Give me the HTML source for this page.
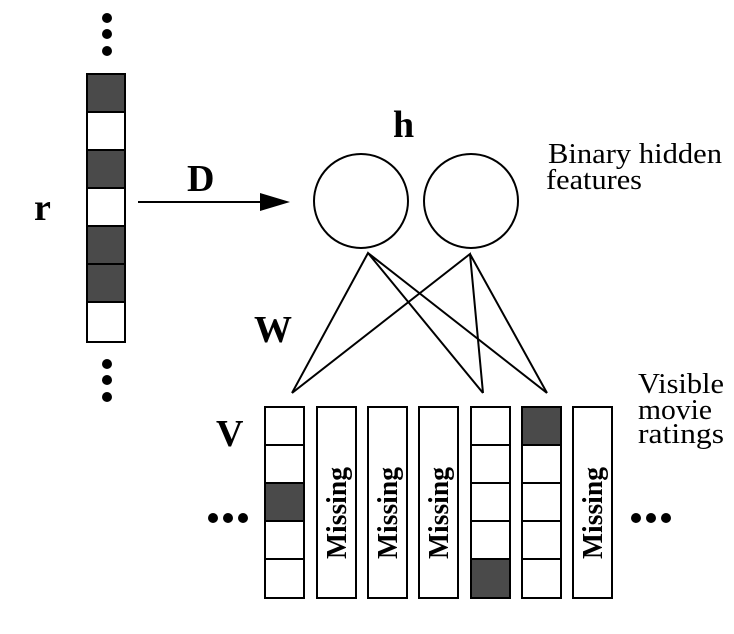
<!DOCTYPE html>
<html><head><meta charset="utf-8"><style>html,body{margin:0;padding:0;background:#fff}svg text{font-family:"Liberation Serif",serif}</style></head>
<body>
<svg width="734" height="629" viewBox="0 0 734 629" xmlns="http://www.w3.org/2000/svg">
<g fill="#000">
<circle cx="107" cy="18" r="5"/><circle cx="107" cy="34" r="5"/><circle cx="107" cy="51" r="5"/>
<circle cx="107" cy="364" r="5"/><circle cx="107" cy="380" r="5"/><circle cx="107" cy="397" r="5"/>
<circle cx="213" cy="518" r="5"/><circle cx="228" cy="518" r="5"/><circle cx="243" cy="518" r="5"/>
<circle cx="636" cy="518" r="5"/><circle cx="651" cy="518" r="5"/><circle cx="666" cy="518" r="5"/>
</g>
<g stroke="#000" stroke-width="2">
<rect x="87" y="74" width="38" height="38" fill="#4a4a4a"/>
<rect x="87" y="112" width="38" height="38" fill="#fff"/>
<rect x="87" y="150" width="38" height="38" fill="#4a4a4a"/>
<rect x="87" y="188" width="38" height="38" fill="#fff"/>
<rect x="87" y="226" width="38" height="38" fill="#4a4a4a"/>
<rect x="87" y="264" width="38" height="38" fill="#4a4a4a"/>
<rect x="87" y="302" width="38" height="40" fill="#fff"/>
<line x1="138" y1="202" x2="265" y2="202"/>
<circle cx="361" cy="201" r="47" fill="none"/>
<circle cx="471" cy="201" r="47" fill="none"/>
<g fill="none">
<path d="M292 393 L368 253 L483 393 M368 253 L547 393"/>
<path d="M292 393 L470 254 L483 393 M470 254 L547 393"/>
</g>
</g>
<polygon points="290,202 260,193 260,211" fill="#000"/>
<g stroke="#000" stroke-width="2" fill="#fff">
<rect x="265" y="407" width="39" height="38"/><rect x="265" y="445" width="39" height="38"/><rect x="265" y="483" width="39" height="38" fill="#4a4a4a"/><rect x="265" y="521" width="39" height="38"/><rect x="265" y="559" width="39" height="39"/>
<rect x="317" y="407" width="39" height="191"/>
<rect x="368" y="407" width="39" height="191"/>
<rect x="419" y="407" width="39" height="191"/>
<rect x="471" y="407" width="39" height="38"/><rect x="471" y="445" width="39" height="38"/><rect x="471" y="483" width="39" height="38"/><rect x="471" y="521" width="39" height="38"/><rect x="471" y="559" width="39" height="39" fill="#4a4a4a"/>
<rect x="522" y="407" width="39" height="38" fill="#4a4a4a"/><rect x="522" y="445" width="39" height="38"/><rect x="522" y="483" width="39" height="38"/><rect x="522" y="521" width="39" height="38"/><rect x="522" y="559" width="39" height="39"/>
<rect x="573" y="407" width="39" height="191"/>
</g>
<g font-weight="bold" font-size="28" fill="#000">
<g transform="translate(346,513) rotate(-90)"><text text-anchor="middle" textLength="92" lengthAdjust="spacingAndGlyphs">Missing</text></g>
<g transform="translate(397,513) rotate(-90)"><text text-anchor="middle" textLength="92" lengthAdjust="spacingAndGlyphs">Missing</text></g>
<g transform="translate(448,513) rotate(-90)"><text text-anchor="middle" textLength="92" lengthAdjust="spacingAndGlyphs">Missing</text></g>
<g transform="translate(602,513) rotate(-90)"><text text-anchor="middle" textLength="92" lengthAdjust="spacingAndGlyphs">Missing</text></g>
</g>
<g font-weight="bold" font-size="38" fill="#000">
<text x="34" y="220">r</text>
<text x="187" y="191">D</text>
<text x="393" y="137">h</text>
<text x="254" y="342">W</text>
<text x="216" y="446">V</text>
</g>
<g font-size="29" fill="#000">
<text x="548" y="163" textLength="174" lengthAdjust="spacingAndGlyphs">Binary hidden</text>
<text x="546" y="189" textLength="96" lengthAdjust="spacingAndGlyphs">features</text>
<text x="638" y="393" textLength="86" lengthAdjust="spacingAndGlyphs">Visible</text>
<text x="638" y="419" textLength="74" lengthAdjust="spacingAndGlyphs">movie</text>
<text x="638" y="443" textLength="86" lengthAdjust="spacingAndGlyphs">ratings</text>
</g>
</svg>
</body></html>
